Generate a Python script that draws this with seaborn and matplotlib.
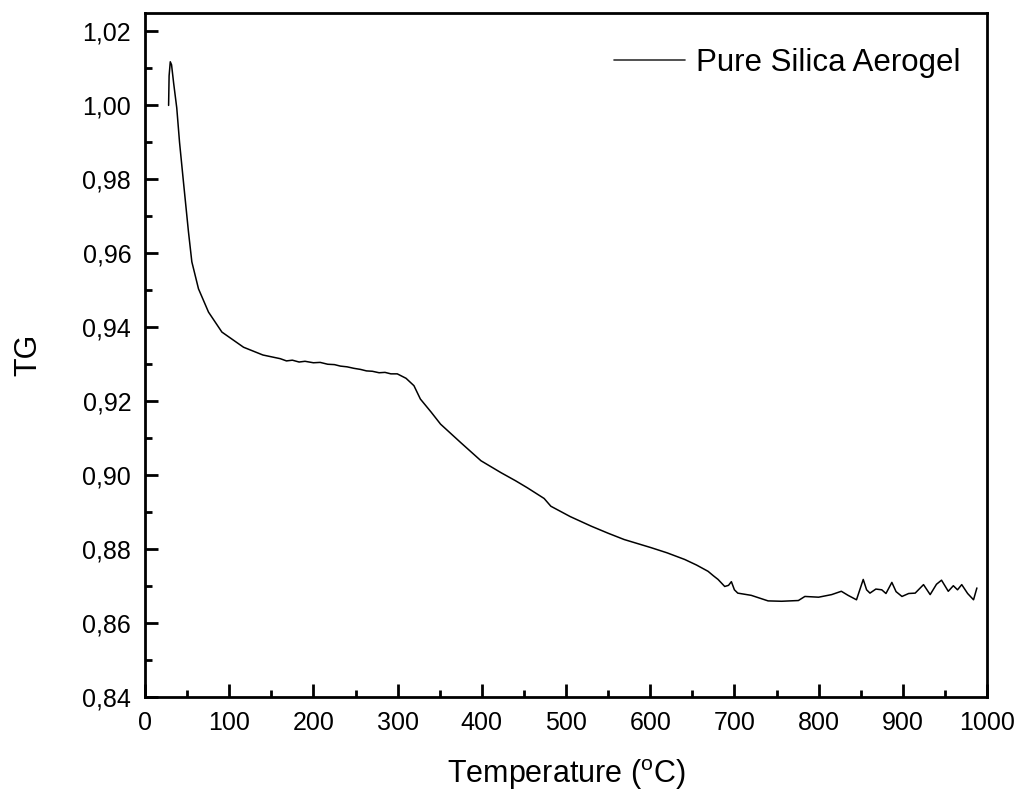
import matplotlib
matplotlib.use("Agg")
import matplotlib.pyplot as plt
from matplotlib.ticker import FixedLocator, FuncFormatter, MultipleLocator
import seaborn as sns
import pandas as pd

# Thermogravimetric curve of the pure silica aerogel
temperature = [28.0, 28.6, 30.0, 31.5, 34.0, 37.7, 41.0, 45.6, 51.6, 55.6, 63.5, 75.4,
               91.3, 117, 140, 160.7, 168, 175, 183, 190, 200, 208, 217, 225, 232,
               240, 248, 256, 263, 270, 278, 285, 292, 299.6,
               310, 319.4, 327, 340, 351, 375, 399, 422.6, 440, 454, 474, 482, 505,
               530, 550, 569, 601, 620, 641, 655, 668.7, 675, 680.6, 688.5, 693,
               696.4, 700, 704, 720, 740, 756, 776, 783.7, 800, 815.5, 827, 835, 845,
               853, 857, 861, 868, 875, 880, 887, 892, 899, 907, 914.7, 924.6, 932.5,
               940, 946, 954, 960, 965, 970, 977, 984, 988]
tg = [1.0000, 1.0080, 1.0118, 1.0110, 1.0060, 0.9993, 0.9900, 0.9794, 0.9658, 0.9577,
      0.9504, 0.9441, 0.9387, 0.9346, 0.9325, 0.9315, 0.9309, 0.9311, 0.9306, 0.9308,
      0.9304, 0.9305, 0.9300, 0.9299, 0.9295, 0.9293, 0.9289, 0.9286, 0.9282, 0.9281,
      0.9277, 0.9278, 0.9274, 0.9274,
      0.9262, 0.9242, 0.9206, 0.9170, 0.9138,
      0.9088, 0.9039, 0.9007, 0.8985, 0.8966, 0.8937, 0.8916, 0.8888, 0.8862, 0.8843,
      0.8826, 0.8804, 0.8790, 0.8772, 0.8757, 0.8740, 0.8728, 0.8718, 0.8699, 0.8702,
      0.8712, 0.8690, 0.8681, 0.8675, 0.8660, 0.8659, 0.8661, 0.8672, 0.8670, 0.8677,
      0.8686, 0.8675, 0.8663, 0.8718, 0.8690, 0.8681, 0.8692, 0.8690, 0.8680, 0.8710,
      0.8685, 0.8672, 0.8680, 0.8681, 0.8704, 0.8677, 0.8705, 0.8716, 0.8686, 0.8701,
      0.8690, 0.8704, 0.8680, 0.8663, 0.8695]
series_name = "Pure Silica Aerogel"

x_ticks = [0, 100, 200, 300, 400, 500, 600, 700, 800, 900, 1000]
y_ticks = [0.84, 0.86, 0.88, 0.90, 0.92, 0.94, 0.96, 0.98, 1.00, 1.02]

sns.set_style("ticks")
plt.rcParams["font.family"] = ["Liberation Sans", "DejaVu Sans"]
plt.rcParams["mathtext.fontset"] = "custom"
plt.rcParams["mathtext.rm"] = "Liberation Sans"
plt.rcParams["mathtext.it"] = "Liberation Sans:italic"
plt.rcParams["text.color"] = "black"
plt.rcParams["axes.labelcolor"] = "black"

df = pd.DataFrame({"Temperature": temperature, "TG": tg})

fig = plt.figure(figsize=(10.17, 7.91), dpi=100)
ax = fig.add_axes([0.1426, 0.1188, 0.8279, 0.8648])

sns.lineplot(data=df, x="Temperature", y="TG", ax=ax, color="black",
             linewidth=1.1, estimator=None, sort=False, label=series_name)

ax.set_xlim(0, 1000)
ax.set_ylim(0.84, 1.025)
ax.xaxis.set_major_locator(FixedLocator(x_ticks))
ax.xaxis.set_minor_locator(MultipleLocator(50))
ax.yaxis.set_major_locator(FixedLocator(y_ticks))
ax.yaxis.set_minor_locator(MultipleLocator(0.01))
ax.yaxis.set_major_formatter(FuncFormatter(lambda v, p: f"{v:.2f}".replace(".", ",")))

for side in ["left", "bottom", "top", "right"]:
    ax.spines[side].set_linewidth(2.0)
    ax.spines[side].set_color("black")

ax.tick_params(which="both", direction="in", top=False, right=False,
               width=2.0, colors="black", labelcolor="black")
ax.tick_params(which="major", length=9.5, labelsize=18, pad=10)
ax.tick_params(which="minor", length=5)

ax.set_xlabel(r"Temperature ($^{\mathrm{o}}$C)", fontsize=22, labelpad=16)
ax.set_ylabel("TG", fontsize=22, labelpad=28)

leg = ax.legend(loc="upper right", frameon=False, fontsize=22.5,
                handlelength=2.25, handletextpad=0.35,
                bbox_to_anchor=(0.994, 0.981), borderaxespad=0.3)
for text in leg.get_texts():
    text.set_color("black")
for line in leg.get_lines():
    line.set_linewidth(1.2)
    line.set_color("#333333")

fig.savefig("out.png", dpi=100, facecolor="white")
